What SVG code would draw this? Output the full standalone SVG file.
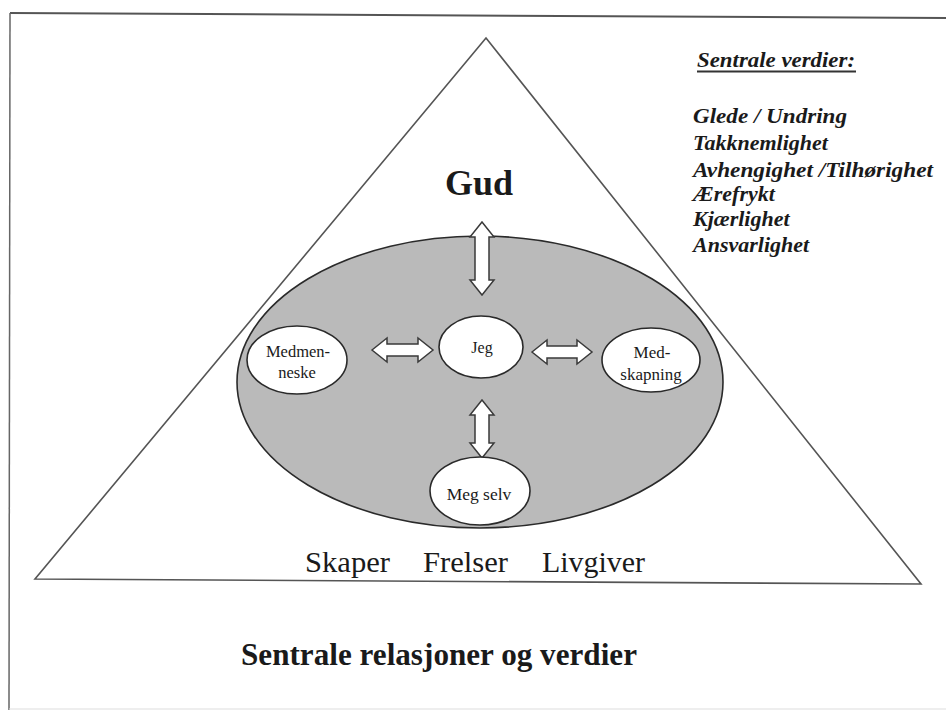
<svg xmlns="http://www.w3.org/2000/svg" width="946" height="712" viewBox="0 0 946 712">
<style>
.serif{font-family:"Liberation Serif","Times New Roman",serif;fill:#1a1a1a}
.node{fill:#fff;stroke:#2a2a2a;stroke-width:1.6}
.arrow{fill:#fff;stroke:#3a3a3a;stroke-width:1.5;stroke-linejoin:miter}
.val{font-family:"Liberation Serif","Times New Roman",serif;font-weight:bold;font-style:italic;font-size:22px;fill:#1a1a1a}
</style>
<rect width="946" height="712" fill="#fff"/>
<g id="frame" fill="none">
<line x1="10" y1="13" x2="946" y2="18" stroke="#555" stroke-width="2"/>
<line x1="10" y1="13" x2="9" y2="710" stroke="#666" stroke-width="1.5"/>
<line x1="9" y1="709" x2="946" y2="709" stroke="#ddd" stroke-width="1"/>
</g>
<g id="triangle">
<polygon points="486,38 921,584 35,579" fill="none" stroke="#555" stroke-width="1.6"/>
</g>
<g id="relations">
<ellipse cx="480" cy="382" rx="243" ry="146" fill="#bababa" stroke="#2a2a2a" stroke-width="1.6"/>
</g>
<g id="connectors">
<path class="arrow" d="M482,222 L494,237 L489,237 L489,280 L494,280 L482,295 L470,280 L475,280 L475,237 L470,237 Z"/>
<path class="arrow" d="M482,400 L494,415 L489,415 L489,443 L494,443 L482,458 L470,443 L475,443 L475,415 L470,415 Z"/>
<path class="arrow" d="M372,350 L387,338 L387,344 L418,344 L418,338 L433,350 L418,362 L418,356 L387,356 L387,362 Z"/>
<path class="arrow" d="M532,352 L547,340 L547,346 L577,346 L577,340 L592,352 L577,364 L577,358 L547,358 L547,364 Z"/>
</g>
<g id="gud">
<text class="serif" x="479" y="195" font-size="36" font-weight="bold" text-anchor="middle">Gud</text>
</g>
<g id="jeg">
<ellipse class="node" cx="481" cy="347" rx="42" ry="31"/>
<text class="serif" x="482" y="353" font-size="16" text-anchor="middle">Jeg</text>
</g>
<g id="medmenneske">
<ellipse class="node" cx="297" cy="360" rx="50" ry="34"/>
<text class="serif" x="298" y="357" font-size="16.5" text-anchor="middle">Medmen-</text>
<text class="serif" x="297" y="378" font-size="16.5" text-anchor="middle">neske</text>
</g>
<g id="medskapning">
<ellipse class="node" cx="651" cy="360" rx="49" ry="32"/>
<text class="serif" x="652" y="358" font-size="17" text-anchor="middle">Med-</text>
<text class="serif" x="651" y="380" font-size="17" text-anchor="middle">skapning</text>
</g>
<g id="megselv">
<ellipse class="node" cx="480" cy="491" rx="50" ry="34"/>
<text class="serif" x="479" y="500" font-size="17.5" text-anchor="middle">Meg selv</text>
</g>
<g id="roles">
<text class="serif" x="305" y="572" font-size="29" textLength="85" lengthAdjust="spacingAndGlyphs">Skaper</text>
<text class="serif" x="423" y="572" font-size="29" textLength="85" lengthAdjust="spacingAndGlyphs">Frelser</text>
<text class="serif" x="542" y="572" font-size="29" textLength="103" lengthAdjust="spacingAndGlyphs">Livgiver</text>
</g>
<g id="values">
<text class="val" x="697" y="67" font-size="22" textLength="158" lengthAdjust="spacingAndGlyphs">Sentrale verdier:</text>
<line x1="697" y1="71.5" x2="856" y2="71.5" stroke="#333" stroke-width="1.8"/>
<text class="val" x="693" y="123" textLength="154" lengthAdjust="spacingAndGlyphs">Glede / Undring</text>
<text class="val" x="693" y="150">Takknemlighet</text>
<text class="val" x="693" y="177" textLength="240" lengthAdjust="spacingAndGlyphs">Avhengighet /Tilhørighet</text>
<text class="val" x="693" y="201">Ærefrykt</text>
<text class="val" x="693" y="226">Kjærlighet</text>
<text class="val" x="693" y="252">Ansvarlighet</text>
</g>
<g id="title">
<text class="serif" x="241" y="665" font-size="31" font-weight="bold" textLength="396" lengthAdjust="spacingAndGlyphs">Sentrale relasjoner og verdier</text>
</g>
</svg>
